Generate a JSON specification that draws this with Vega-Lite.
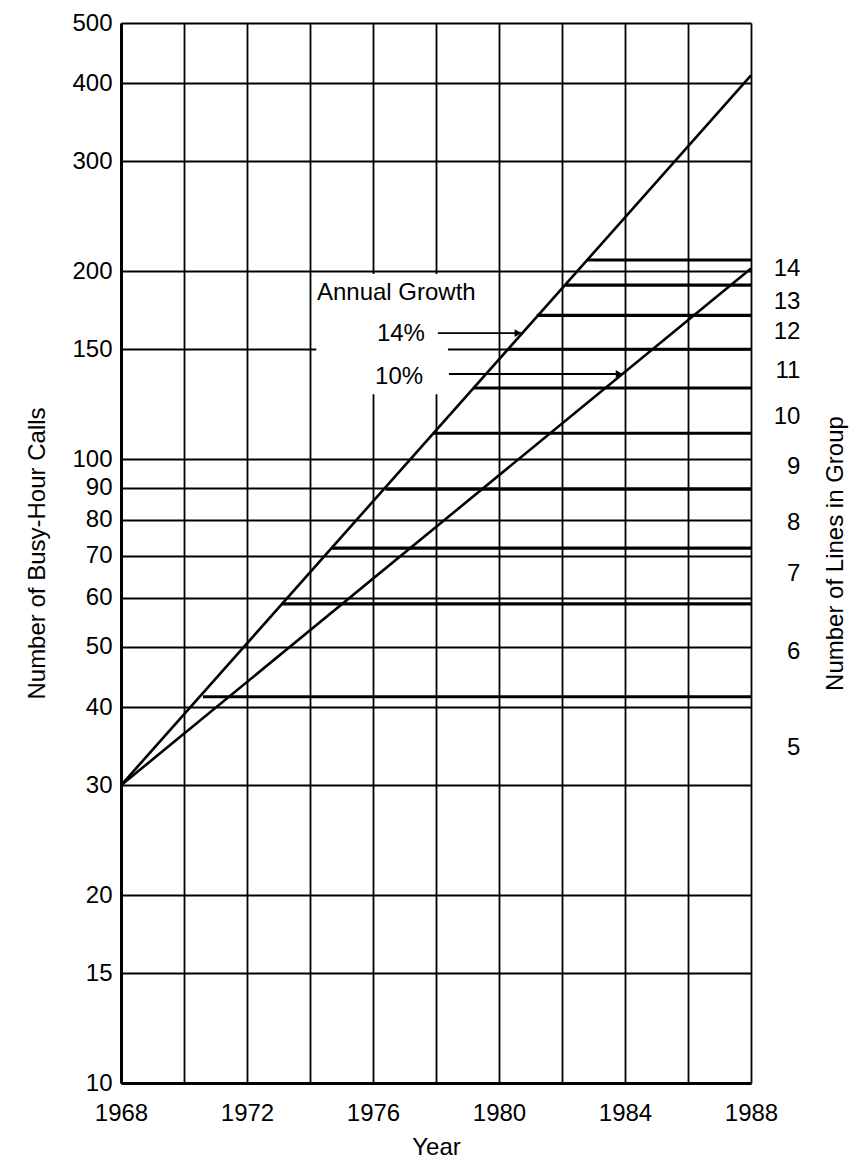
{
  "$schema": "https://vega.github.io/schema/vega-lite/v6.json",
  "width": 630,
  "height": 1060,
  "autosize": {"type": "none"},
  "padding": {"left": 121, "top": 23, "right": 110, "bottom": 81},
  "background": "white",
  "config": {
    "font": "Liberation Sans",
    "view": {"stroke": null},
    "axis": {
      "labelColor": "black",
      "titleColor": "black",
      "titleFontWeight": "normal",
      "labelFontSize": 24,
      "titleFontSize": 24,
      "gridColor": "black",
      "gridOpacity": 1,
      "gridWidth": 1.8,
      "domainColor": "black",
      "domainWidth": 3,
      "ticks": false,
      "labelFlush": false,
      "labelOverlap": false
    }
  },
  "datasets": {
    "box": [{"year": 1974.2, "year_end": 1978.38, "calls": 198, "calls_end": 127}],
    "growth": [
      {"rate": "14%", "year": 1968, "calls": 30},
      {"rate": "14%", "year": 1988, "calls": 412},
      {"rate": "10%", "year": 1968, "calls": 30},
      {"rate": "10%", "year": 1988, "calls": 202}
    ],
    "steps": [
      {"calls": 41.6, "year": 1970.6, "year_end": 1988},
      {"calls": 58.6, "year": 1973.1, "year_end": 1988},
      {"calls": 72, "year": 1974.7, "year_end": 1988},
      {"calls": 89.5, "year": 1976.4, "year_end": 1988},
      {"calls": 110, "year": 1977.9, "year_end": 1988},
      {"calls": 130, "year": 1979.2, "year_end": 1988},
      {"calls": 150, "year": 1980.3, "year_end": 1988},
      {"calls": 170, "year": 1981.2, "year_end": 1988},
      {"calls": 190, "year": 1982.1, "year_end": 1988},
      {"calls": 208.5, "year": 1982.8, "year_end": 1988}
    ],
    "arrows": [
      {"rate": "14%", "year": 1978.06, "year_end": 1980.73, "calls": 159.2},
      {"rate": "10%", "year": 1978.41, "year_end": 1983.94, "calls": 136.9}
    ],
    "notes_left": [{"text": "Annual Growth", "year": 1974.22, "calls": 184.6}],
    "notes_right": [
      {"text": "14%", "year": 1977.65, "calls": 158.7},
      {"text": "10%", "year": 1977.59, "calls": 135.4}
    ],
    "lines": [
      {"lines": 14, "calls": 201.7},
      {"lines": 13, "calls": 178.6},
      {"lines": 12, "calls": 159.8},
      {"lines": 11, "calls": 138.4},
      {"lines": 10, "calls": 116.8},
      {"lines": 9, "calls": 97.1},
      {"lines": 8, "calls": 79.0},
      {"lines": 7, "calls": 65.4},
      {"lines": 6, "calls": 49.1},
      {"lines": 5, "calls": 34.4}
    ]
  },
  "resolve": {"axis": {"x": "independent", "y": "independent"}},
  "layer": [
    {
      "data": {"name": "box"},
      "mark": {"type": "rect", "fill": "white", "stroke": null},
      "encoding": {
        "x": {
          "field": "year",
          "type": "quantitative",
          "scale": {"domain": [1968, 1988], "nice": false, "zero": false},
          "axis": {
            "orient": "bottom",
            "values": [1968, 1970, 1972, 1974, 1976, 1978, 1980, 1982, 1984, 1986, 1988],
            "format": "d",
            "labelExpr": "datum.value % 4 === 0 ? datum.label : ''",
            "grid": true,
            "labelPadding": 18,
            "title": "Year",
            "titlePadding": 10
          }
        },
        "x2": {"field": "year_end"},
        "y": {
          "field": "calls",
          "type": "quantitative",
          "scale": {"type": "log", "domain": [10, 500], "nice": false},
          "axis": {
            "orient": "left",
            "values": [10, 15, 20, 30, 40, 50, 60, 70, 80, 90, 100, 150, 200, 300, 400, 500],
            "format": "d",
            "grid": true,
            "labelPadding": 9,
            "title": "Number of Busy-Hour Calls",
            "titlePadding": 22
          }
        },
        "y2": {"field": "calls_end"}
      }
    },
    {
      "data": {"name": "growth"},
      "mark": {"type": "line", "color": "black", "strokeWidth": 2.6},
      "encoding": {
        "x": {"field": "year", "type": "quantitative", "axis": null},
        "y": {"field": "calls", "type": "quantitative", "axis": null},
        "detail": {"field": "rate"}
      }
    },
    {
      "data": {"name": "steps"},
      "mark": {"type": "rule", "color": "black", "strokeWidth": 3.2},
      "encoding": {
        "x": {"field": "year", "type": "quantitative", "axis": null},
        "x2": {"field": "year_end"},
        "y": {"field": "calls", "type": "quantitative", "axis": null}
      }
    },
    {
      "data": {"name": "arrows"},
      "mark": {"type": "rule", "color": "black", "strokeWidth": 1.8},
      "encoding": {
        "x": {"field": "year", "type": "quantitative", "axis": null},
        "x2": {"field": "year_end"},
        "y": {"field": "calls", "type": "quantitative", "axis": null}
      }
    },
    {
      "data": {"name": "arrows"},
      "mark": {"type": "point", "shape": "triangle-right", "filled": true, "color": "black", "size": 60, "opacity": 1, "xOffset": -4},
      "encoding": {
        "x": {"field": "year_end", "type": "quantitative", "axis": null},
        "y": {"field": "calls", "type": "quantitative", "axis": null}
      }
    },
    {
      "data": {"name": "notes_left"},
      "mark": {"type": "text", "align": "left", "baseline": "middle", "fontSize": 24, "color": "black"},
      "encoding": {
        "x": {"field": "year", "type": "quantitative", "axis": null},
        "y": {"field": "calls", "type": "quantitative", "axis": null},
        "text": {"field": "text"}
      }
    },
    {
      "data": {"name": "notes_right"},
      "mark": {"type": "text", "align": "right", "baseline": "middle", "fontSize": 24, "color": "black"},
      "encoding": {
        "x": {"field": "year", "type": "quantitative", "axis": null},
        "y": {"field": "calls", "type": "quantitative", "axis": null},
        "text": {"field": "text"}
      }
    },
    {
      "data": {"name": "lines"},
      "mark": {"type": "text", "align": "right", "baseline": "middle", "fontSize": 24, "color": "black"},
      "encoding": {
        "x": {"datum": 1989.57, "type": "quantitative", "axis": null},
        "y": {
          "field": "calls",
          "type": "quantitative",
          "axis": {
            "orient": "right",
            "labels": false,
            "ticks": false,
            "domain": false,
            "grid": false,
            "title": "Number of Lines in Group",
            "titleAngle": 270,
            "titleBaseline": "top",
            "titlePadding": 72
          }
        },
        "text": {"field": "lines"}
      }
    }
  ]
}
